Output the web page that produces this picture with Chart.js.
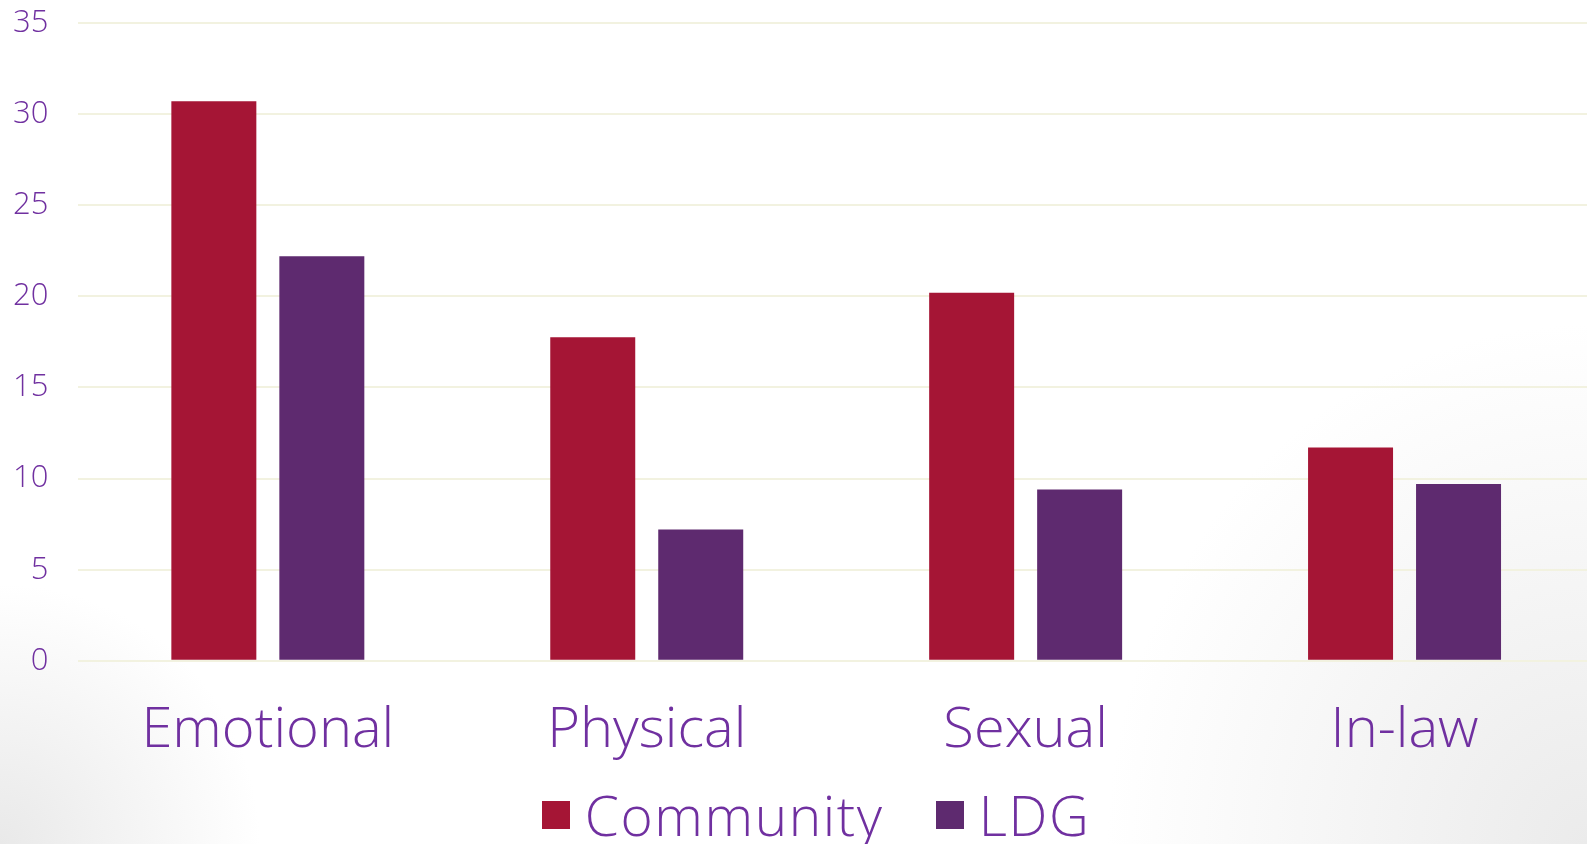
<!DOCTYPE html>
<html>
<head>
<style>
  html, body { margin: 0; padding: 0; }
  body {
    position: relative;
    width: 1587px; height: 844px; overflow: hidden;
    background:
      radial-gradient(circle 260px at 0% 100%, #e9e9e9 0%, rgba(255,255,255,0) 100%),
      radial-gradient(ellipse 480px 520px at 100% 100%, #ebebeb 0%, rgba(255,255,255,0) 100%),
      #ffffff;
    font-family: "Open Sans", Lato, sans-serif;
  }
  #wrap { position: absolute; left: 0; top: 0; width: 1594px; height: 844px; }
  #legend {
    position: absolute; left: 0; top: 787px; width: 1632px; height: 55px;
    display: flex; justify-content: center; align-items: center;
  }
  .item { display: flex; align-items: center; margin: 0 26px; }
  .box { width: 28px; height: 28px; margin-right: 15px; }
  .txt { font-size: 55px; font-weight: 300; line-height: 1; letter-spacing: 1.6px; color: #7030a0; }
</style>
</head>
<body>
  <div id="wrap">
    <canvas id="myChart"></canvas>
  </div>
  <div id="legend"></div>
</body>

<script src="https://cdnjs.cloudflare.com/ajax/libs/Chart.js/4.3.0/chart.umd.js"></script>

<script>
  const categories = ['Emotional', 'Physical', 'Sexual', 'In-law']
  const community = [30.7, 17.75, 20.2, 11.7]
  const ldg = [22.2, 7.2, 9.4, 9.7]
  const yTicks = [0, 5, 10, 15, 20, 25, 30, 35]

  const textColor = '#7030a0'
  const fontFamily = '"Open Sans", Lato, sans-serif'

  const ctx = document.getElementById('myChart')
  ctx.width = 1594
  ctx.height = 844

  // html legend, built from the datasets
  const htmlLegend = {
    id: 'htmlLegend',
    afterUpdate(chart) {
      const el = document.getElementById('legend')
      el.innerHTML = ''
      chart.data.datasets.forEach(ds => {
        const item = document.createElement('div')
        item.className = 'item'
        const box = document.createElement('span')
        box.className = 'box'
        box.style.background = ds.backgroundColor
        const txt = document.createElement('span')
        txt.className = 'txt'
        txt.textContent = ds.label
        item.appendChild(box)
        item.appendChild(txt)
        el.appendChild(item)
      })
    }
  }

  new Chart(ctx, {
    type: 'bar',
    data: {
      labels: categories,
      datasets: [{
        label: 'Community',
        data: community,
        backgroundColor: '#a51535',
        categoryPercentage: 0.57,
        barPercentage: 0.787
      }, {
        label: 'LDG',
        data: ldg,
        backgroundColor: '#5e2a6f',
        categoryPercentage: 0.57,
        barPercentage: 0.787
      }]
    },
    plugins: [htmlLegend],
    options: {
      responsive: false,
      animation: false,
      layout: { padding: { left: 13, right: 0, top: 23, bottom: 50 } },
      plugins: {
        tooltip: { enabled: false },
        legend: { display: false }
      },
      scales: {
        x: {
          grid: { display: false },
          border: { display: false },
          ticks: {
            color: textColor,
            font: { family: fontFamily, size: 56, weight: 300 },
            padding: 29
          }
        },
        y: {
          min: 0,
          max: 35,
          afterBuildTicks: axis => { axis.ticks = yTicks.map(v => ({ value: v })) },
          grid: { color: '#f2f2e0', lineWidth: 2, drawTicks: true, tickLength: 30, tickColor: 'rgba(0,0,0,0)' },
          border: { display: false },
          ticks: {
            color: textColor,
            font: { family: fontFamily, size: 31, weight: 300 },
            padding: 0
          }
        }
      }
    }
  })
</script>
</html>
